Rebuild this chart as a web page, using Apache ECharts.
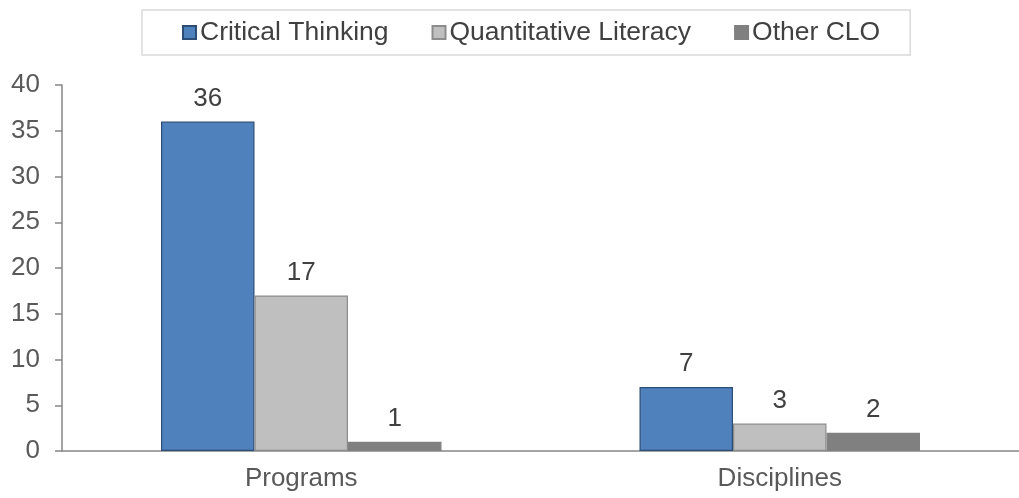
<!DOCTYPE html>
<html><head><meta charset="utf-8">
<script src="https://cdn.jsdelivr.net/npm/echarts@6/dist/echarts.min.js"></script>
<style>html,body{margin:0;padding:0;background:#fff}#c{width:1019px;height:498px}</style>
</head><body><div id="c"></div>
<script>
const categories = ["Programs", "Disciplines"];
const seriesNames = ["Critical Thinking", "Quantitative Literacy", "Other CLO"];
const criticalThinking = [36, 7];
const quantitativeLiteracy = [17, 3];
const otherCLO = [1, 2];
const yTicks = [0, 5, 10, 15, 20, 25, 30, 35, 40];

const colors = ["#4f81bd", "#bfbfbf", "#808080"];
const borders = ["#2c4d75", "#8c8c8c", "#808080"];
const values = [criticalThinking, quantitativeLiteracy, otherCLO];

const chart = echarts.init(document.getElementById('c'));
const FONT = '"Liberation Sans", Arial, sans-serif';
chart.setOption({
  animation: false,
  legend: {
    top: 10, left: 142,
    data: seriesNames,
    icon: 'rect',
    itemWidth: 13, itemHeight: 13, itemGap: 43,
    padding: [9, 30, 9, 40],
    borderColor: '#d9d9d9', borderWidth: 1.5,
    textStyle: {fontFamily: FONT, fontSize: 26.5, color: '#404040', padding: [0, 0, 0, -1]}
  },
  grid: {left: 62, top: 85, bottom: 47, width: 968, containLabel: false},
  xAxis: {
    type: 'category', data: categories,
    axisLine: {lineStyle: {color: '#868686', width: 1.5}},
    axisTick: {show: false},
    axisLabel: {fontFamily: FONT, fontSize: 26, color: '#595959', margin: 15}
  },
  yAxis: {
    type: 'value', min: 0, max: 40, interval: 5,
    axisLine: {show: true, lineStyle: {color: '#868686', width: 1.5}},
    axisTick: {show: true, length: 7, lineStyle: {color: '#868686', width: 1.5}},
    splitLine: {show: false},
    axisLabel: {fontFamily: FONT, fontSize: 26, color: '#595959', margin: 22,
      formatter: v => yTicks.includes(v) ? String(v) : ''}
  },
  series: values.map((vals, i) => ({
    name: seriesNames[i], type: 'bar', data: vals,
    barWidth: 93.5, barGap: '0%',
    itemStyle: {color: colors[i], borderColor: borders[i], borderWidth: 1.2},
    label: {show: true, position: 'top', distance: 10, fontFamily: FONT, fontSize: 26, color: '#404040'}
  }))
});
</script></body></html>
